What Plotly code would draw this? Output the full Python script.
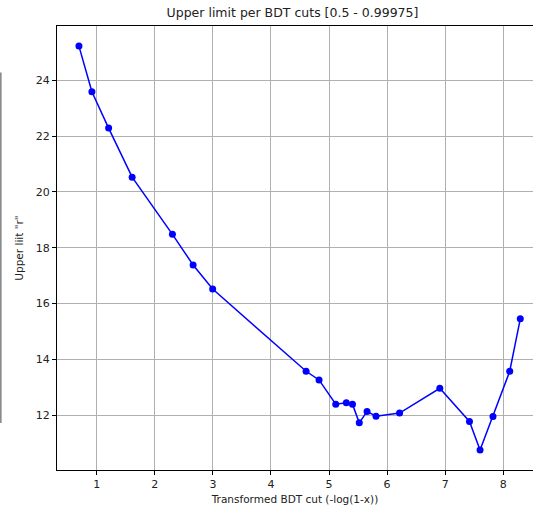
import plotly.graph_objects as go

# Transformed BDT cut values, -log(1 - cut), for cuts from 0.5 to 0.99975
bdt_cut = [0.693, 0.916, 1.204, 1.609, 2.303, 2.659, 2.996, 4.605, 4.828, 5.116,
           5.298, 5.404, 5.521, 5.655, 5.809, 6.215, 6.908, 7.419, 7.601, 7.824,
           8.112, 8.294]
# Upper limit on r for each cut
upper_limit = [25.23, 23.59, 22.29, 20.53, 18.48, 17.38, 16.52, 13.57, 13.26, 12.39,
               12.44, 12.39, 11.72, 12.13, 11.96, 12.07, 12.96, 11.77, 10.75, 11.95,
               13.57, 15.45]

x_ticks = [1, 2, 3, 4, 5, 6, 7, 8]
y_ticks = [12, 14, 16, 18, 20, 22, 24]

W, H = 533, 509
left, top, bottom = 57, 26, 39

fig = go.Figure()
fig.add_trace(go.Scatter(
    x=bdt_cut, y=upper_limit, mode="lines+markers",
    line=dict(color="#0000ff", width=1.5),
    marker=dict(color="#0000ff", size=7),
    showlegend=False,
))

axis_common = dict(
    showgrid=True, gridcolor="#b0b0b0", gridwidth=0.8,
    showline=True, linecolor="black", linewidth=1,
    ticks="outside", ticklen=4, tickcolor="black", tickwidth=1,
    zeroline=False,
    tickfont=dict(family="DejaVu Sans", size=11, color="#222"),
)

fig.update_xaxes(
    **axis_common, range=[0.315, 8.513], tickvals=x_ticks, mirror=True,
    title=dict(text="Transformed BDT cut (-log(1-x))",
               font=dict(family="DejaVu Sans", size=10.5, color="#222"), standoff=5),
)
fig.update_yaxes(
    **axis_common, range=[10.03, 25.95], tickvals=y_ticks,
    title=dict(text='Upper liit "r"',
               font=dict(family="DejaVu Sans", size=10.5, color="#222"), standoff=10),
)

# Thin grey bar at the far left edge
fig.add_shape(type="line", xref="paper", yref="paper",
              x0=-0.118, x1=-0.118, y0=0.106, y1=0.895,
              line=dict(color="#808080", width=1.5))

fig.update_layout(
    width=W, height=H,
    margin=dict(l=left, r=0, t=top, b=bottom),
    paper_bgcolor="white", plot_bgcolor="white",
    title=dict(text="Upper limit per BDT cuts [0.5 - 0.99975]",
               font=dict(family="DejaVu Sans", size=12.5, color="#222"),
               x=292.5 / W, xanchor="center", y=1 - 13 / H, yanchor="middle",
               xref="container", yref="container"),
)

fig.write_html("out.html")
